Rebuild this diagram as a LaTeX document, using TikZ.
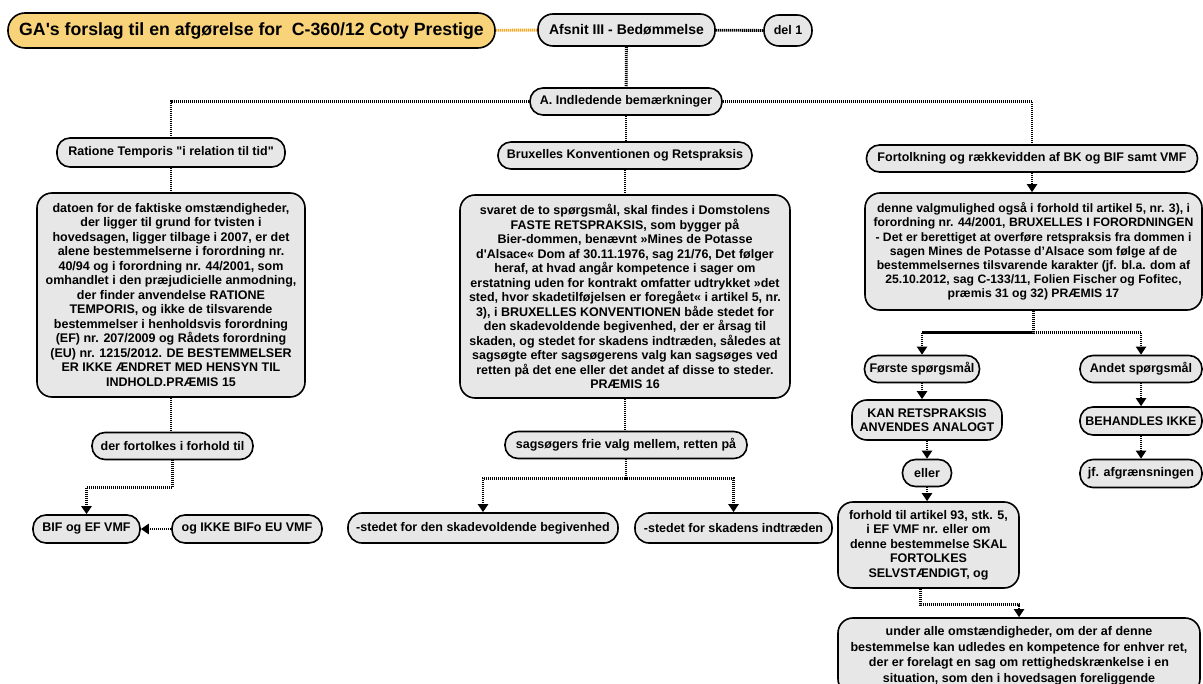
\documentclass[tikz,border=0pt]{standalone}
\usepackage{fontspec}
\newfontfamily\libsans{Liberation Sans}
\usetikzlibrary{arrows.meta}
\definecolor{boxgray}{RGB}{231,231,231}
\definecolor{titleor}{RGB}{249,211,122}
\definecolor{lineor}{RGB}{245,166,35}
\tikzset{
 base/.style={draw=black, line width=1.6pt, fill=boxgray, inner sep=0pt, align=center, font=\libsans\bfseries\fontsize{12.5}{14.5}\selectfont},
 pill/.style={base, rounded corners=13pt},
 bigbox/.style={base, rounded corners=15pt},
 conn/.style={line width=2.8pt, dash pattern=on 1.2pt off 0.8pt, draw=black},
 arr/.style={conn, -{Triangle[width=10pt,length=8pt]}},
}
\begin{document}
\begin{tikzpicture}[x=1pt,y=-1pt]
\clip (0,0) rectangle (1203,684);
% top row
\node[pill, fill=titleor, rounded corners=17pt, minimum width=487, minimum height=35, font=\libsans\bfseries\fontsize{17.7}{20}\selectfont] (title) at (251.5,30.5) {GA's forslag til en afgørelse for \ C-360/12 Coty Prestige};
\node[pill, rounded corners=15pt, minimum width=177, minimum height=32, font=\libsans\bfseries\fontsize{14}{16}\selectfont] (afsnit) at (626.5,30) {Afsnit III - Bedømmelse};
\node[pill, rounded corners=15pt, minimum width=48, minimum height=31] (del) at (788,30.5) {del 1};
\node[pill, minimum width=192, minimum height=27] (indl) at (626,101.5) {A. Indledende bemærkninger};
% left column
\node[pill, minimum width=228, minimum height=29] (ratione) at (171,152.5) {Ratione Temporis "i relation til tid"};
\node[bigbox, minimum width=268, minimum height=204] (lbox) at (171,295) {datoen for de faktiske omstændigheder,\\der ligger til grund for tvisten i\\hovedsagen, ligger tilbage i 2007, er det\\alene bestemmelserne i forordning nr.\\40/94 og i forordning nr. 44/2001, som\\omhandlet i den præjudicielle anmodning,\\der finder anvendelse RATIONE\\TEMPORIS, og ikke de tilsvarende\\bestemmelser i henholdsvis forordning\\(EF) nr. 207/2009 og Rådets forordning\\(EU) nr. 1215/2012. DE BESTEMMELSER\\ER IKKE ÆNDRET MED HENSYN TIL\\INDHOLD.PRÆMIS 15};
\node[pill, minimum width=161, minimum height=27] (derfort) at (172.5,446) {der fortolkes i forhold til};
\node[pill, minimum width=107, minimum height=28] (bif) at (86.5,529) {BIF og EF VMF};
\node[pill, minimum width=150, minimum height=28] (ogikke) at (247,529) {og IKKE BIFo EU VMF};
% middle column
\node[pill, minimum width=254, minimum height=27] (brux) at (625,155.5) {Bruxelles Konventionen og Retspraksis};
\node[bigbox, minimum width=330, minimum height=203] (mbox) at (625,296.5) {svaret de to spørgsmål, skal findes i Domstolens\\FASTE RETSPRAKSIS, som bygger på\\Bier-dommen, benævnt »Mines de Potasse\\d'Alsace« Dom af 30.11.1976, sag 21/76, Det følger\\heraf, at hvad angår kompetence i sager om\\erstatning uden for kontrakt omfatter udtrykket »det\\sted, hvor skadetilføjelsen er foregået« i artikel 5, nr.\\3), i BRUXELLES KONVENTIONEN både stedet for\\den skadevoldende begivenhed, der er årsag til\\skaden, og stedet for skadens indtræden, således at\\sagsøgte efter sagsøgerens valg kan sagsøges ved\\retten på det ene eller det andet af disse to steder.\\PRÆMIS 16};
\node[pill, minimum width=242, minimum height=27] (sags) at (626,445) {sagsøgers frie valg mellem, retten på};
\node[pill, rounded corners=14pt, minimum width=270, minimum height=30] (sted1) at (483,528) {-stedet for den skadevoldende begivenhed};
\node[pill, rounded corners=14pt, minimum width=197, minimum height=30] (sted2) at (733.5,528) {-stedet for skadens indtræden};
% right column
\node[pill, minimum width=331, minimum height=27] (fort) at (1032,158.5) {Fortolkning og rækkevidden af BK og BIF samt VMF};
\node[bigbox, minimum width=337, minimum height=117, font=\libsans\bfseries\fontsize{12.2}{14.2}\selectfont] (rbox) at (1033.5,251.5) {denne valgmulighed også i forhold til artikel 5, nr. 3), i\\forordning nr. 44/2001, BRUXELLES I FORORDNINGEN\\- Det er berettiget at overføre retspraksis fra dommen i\\sagen Mines de Potasse d’Alsace som følge af de\\bestemmelsernes tilsvarende karakter (jf. bl.a. dom af\\25.10.2012, sag C-133/11, Folien Fischer og Fofitec,\\præmis 31 og 32) PRÆMIS 17};
\node[pill, minimum width=115, minimum height=27] (forste) at (922,369) {Første spørgsmål};
\node[pill, minimum width=122, minimum height=27] (andet) at (1141,369) {Andet spørgsmål};
\node[bigbox, minimum width=150, minimum height=40] (kan) at (927,420) {KAN RETSPRAKSIS\\ANVENDES ANALOGT};
\node[pill, minimum width=122, minimum height=28] (behandles) at (1141,421) {BEHANDLES IKKE};
\node[pill, minimum width=49, minimum height=27] (eller) at (927,473) {eller};
\node[pill, minimum width=122, minimum height=28] (jf) at (1141,473.5) {jf. afgrænsningen};
\node[bigbox, minimum width=181, minimum height=86] (forhold) at (928.5,545) {forhold til artikel 93, stk. 5,\\i EF VMF nr. eller om\\denne bestemmelse SKAL\\FORTOLKES\\SELVSTÆNDIGT, og};
\node[bigbox, minimum width=362, minimum height=76, font=\libsans\bfseries\fontsize{12.5}{15.5}\selectfont] (under) at (1019,656) {under alle omstændigheder, om der af denne\\bestemmelse kan udledes en kompetence for enhver ret,\\der er forelagt en sag om rettighedskrænkelse i en\\situation, som den i hovedsagen foreliggende};
% connectors
\draw[conn, draw=lineor] (title) -- (afsnit);
\draw[conn] (afsnit) -- (del);
\draw[conn] (afsnit) -- (indl);
\draw[conn] (indl.west) -| (ratione.north);
\draw[conn] (indl.east) -| (fort.north);
\draw[conn] (indl.south) -- (indl.south |- brux.north);
\draw[conn] (ratione) -- (lbox);
\draw[conn] (lbox.south) -- (lbox.south |- derfort.north);
\draw[arr] (derfort.south) -- ++(0,27.4) -| (bif.north);
\draw[arr] (ogikke) -- (bif);
\draw[conn] (brux) -- (mbox);
\draw[conn] (mbox.south) -- (mbox.south |- sags.north);
\draw[arr] (sags.south) -- ++(0,19) -| (sted1.north);
\draw[arr] (sags.south) -- ++(0,19) -| (sted2.north);
\draw[arr] (fort.south) -- (fort.south |- rbox.north);
\draw[arr] (rbox.south) -- ++(0,22) -| (forste.north);
\draw[arr] (rbox.south) -- ++(0,22) -| (andet.north);
\draw[arr] (forste.south) -- (forste.south |- kan.north);
\draw[arr] (kan.south) -- (kan.south |- eller.north);
\draw[arr] (eller.south) -- (eller.south |- forhold.north);
\draw[arr] ([xshift=-8pt]forhold.south) -- ++(0,16) -| (under.north);
\draw[arr] (andet) -- (behandles);
\draw[arr] (behandles) -- (jf);
\end{tikzpicture}
\end{document}
